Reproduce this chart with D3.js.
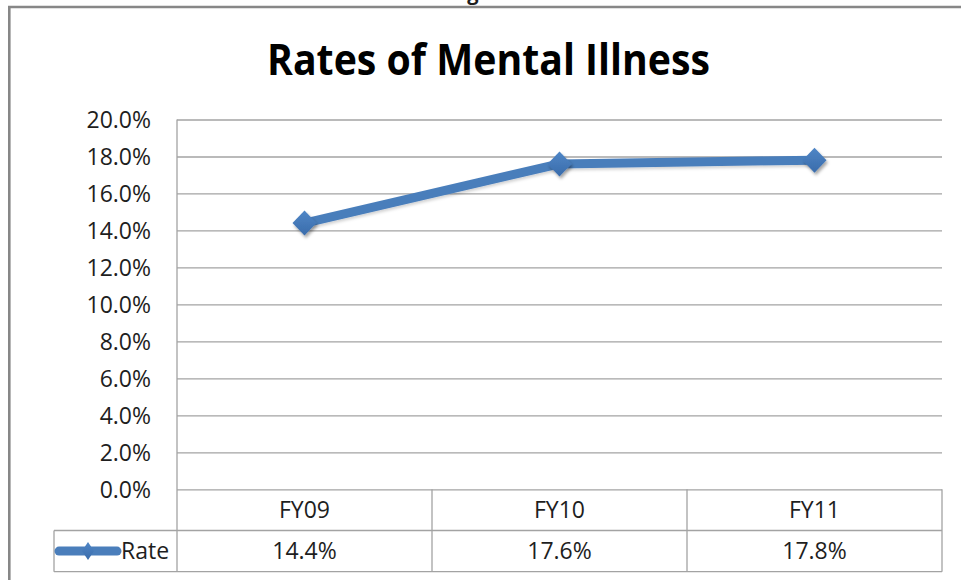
<!DOCTYPE html>
<html>
<head>
<meta charset="utf-8">
<script src="https://cdn.jsdelivr.net/npm/d3@7"></script>
<style>
  html, body { margin: 0; padding: 0; background: #fff; }
  svg { display: block; }
  text { font-family: "Open Sans", "Noto Sans", sans-serif; fill: #1e1e1e; }
</style>
</head>
<body>
<svg id="chart" width="961" height="580"></svg>
<script>
// Chart data
const title = "Rates of Mental Illness";
const seriesName = "Rate";
const categories = ["FY09", "FY10", "FY11"];
const rates = [0.144, 0.176, 0.178];
const yTicks = [0, 0.02, 0.04, 0.06, 0.08, 0.10, 0.12, 0.14, 0.16, 0.18, 0.20];

const svg = d3.select("#chart");
const W = 961, H = 580;

// Plot geometry
const plot = { left: 177, right: 942, top: 119.5, bottom: 489.3 };
const rowH = 41.2;           // height of each data-table row
const legendLeft = 54;       // left edge of the legend cell
const gridColor = "#a3a3a3";
const blue = "#4a7ebb";
const labelSize = 23;

const x = d3.scaleBand().domain(categories).range([plot.left, plot.right]).padding(0);
const y = d3.scaleLinear().domain([0, 0.20]).range([plot.bottom, plot.top]);
const fmt = d3.format(".1%");

// Filters and gradients
const defs = svg.append("defs");
const sh = defs.append("filter").attr("id", "shadow")
  .attr("x", "-50%").attr("y", "-50%").attr("width", "200%").attr("height", "200%");
sh.append("feDropShadow").attr("dx", 1.5).attr("dy", 2.5)
  .attr("stdDeviation", 1.8).attr("flood-color", "#000").attr("flood-opacity", 0.35);
const shLine = defs.append("filter").attr("id", "lineShadow")
  .attr("x", "-10%").attr("y", "-50%").attr("width", "120%").attr("height", "200%");
shLine.append("feDropShadow").attr("dx", 1).attr("dy", 2)
  .attr("stdDeviation", 1.5).attr("flood-color", "#000").attr("flood-opacity", 0.18);
const grad = defs.append("linearGradient").attr("id", "markerFill")
  .attr("x1", 0).attr("y1", 0).attr("x2", 0).attr("y2", 1);
grad.append("stop").attr("offset", "0%").attr("stop-color", "#4f86c6");
grad.append("stop").attr("offset", "100%").attr("stop-color", "#3a6cab");

// Outer chart frame (left and top edges)
svg.append("path")
  .attr("d", `M9.3,${H} V7 H${W}`)
  .attr("fill", "none").attr("stroke", "#878787").attr("stroke-width", 2.6);

// Descender of a caption sitting above the frame
svg.append("text").attr("x", 473).attr("y", 0)
  .attr("text-anchor", "middle").attr("font-weight", 700).attr("font-size", 20)
  .text("g");

// Title
svg.append("text")
  .attr("x", 488.5).attr("y", 74.5)
  .attr("text-anchor", "middle")
  .attr("font-weight", 700).attr("font-size", 43)
  .attr("textLength", 443).attr("lengthAdjust", "spacingAndGlyphs")
  .style("fill", "#000")
  .text(title);

// Gridlines and y labels
const yAxis = svg.append("g")
  .attr("transform", `translate(${plot.left},0)`)
  .call(d3.axisLeft(y).tickValues(yTicks).tickFormat(fmt)
    .tickSize(-(plot.right - plot.left)).tickPadding(26));
yAxis.select(".domain").remove();
yAxis.selectAll(".tick line").attr("stroke", gridColor).attr("stroke-width", 1.3);
yAxis.selectAll(".tick text")
  .attr("font-size", labelSize).attr("font-family", null).attr("fill", "#1e1e1e")
  .attr("dy", "0.36em")
  .attr("x", -26);

// Left edge of plot area, continuing through the table
svg.append("line")
  .attr("x1", plot.left).attr("x2", plot.left)
  .attr("y1", plot.top).attr("y2", plot.bottom + 2 * rowH)
  .attr("stroke", gridColor).attr("stroke-width", 1.3);

// Data table lines
const table = svg.append("g").attr("stroke", gridColor).attr("stroke-width", 1.3);
table.append("line").attr("x1", legendLeft).attr("x2", plot.right)
  .attr("y1", plot.bottom + rowH).attr("y2", plot.bottom + rowH);
table.append("line").attr("x1", legendLeft).attr("x2", plot.right)
  .attr("y1", plot.bottom + 2 * rowH).attr("y2", plot.bottom + 2 * rowH);
table.append("line").attr("x1", legendLeft).attr("x2", legendLeft)
  .attr("y1", plot.bottom + rowH).attr("y2", plot.bottom + 2 * rowH);
table.selectAll(".col").data(categories).enter().append("line")
  .attr("x1", d => x(d) + x.bandwidth()).attr("x2", d => x(d) + x.bandwidth())
  .attr("y1", plot.bottom).attr("y2", plot.bottom + 2 * rowH);

// Category labels and values in the table
const cellText = sel => sel
  .attr("text-anchor", "middle").attr("font-size", labelSize)
  .attr("dy", "0.36em");
svg.selectAll(".cat").data(categories).enter().append("text")
  .attr("x", d => x(d) + x.bandwidth() / 2)
  .attr("y", plot.bottom + rowH / 2)
  .call(cellText)
  .text(d => d);
svg.selectAll(".val").data(rates).enter().append("text")
  .attr("x", (d, i) => x(categories[i]) + x.bandwidth() / 2)
  .attr("y", plot.bottom + rowH * 1.5)
  .call(cellText)
  .text(d => fmt(d));

// Legend key in the table
const legY = plot.bottom + rowH * 1.5;
const leg = svg.append("g");
leg.append("line").attr("x1", 59).attr("x2", 117).attr("y1", legY).attr("y2", legY)
  .attr("stroke", blue).attr("stroke-width", 9).attr("stroke-linecap", "round");
leg.append("path")
  .attr("d", "M0,-9 L6,0 L0,9 L-6,0 Z")
  .attr("transform", `translate(88,${legY})`)
  .attr("fill", "url(#markerFill)");
leg.append("text")
  .attr("x", 121).attr("y", legY)
  .attr("font-size", labelSize).attr("dy", "0.36em")
  .text(seriesName);

// Series line and markers
const pts = categories.map((c, i) => [x(c) + x.bandwidth() / 2, y(rates[i])]);
svg.append("path")
  .attr("d", d3.line()(pts))
  .attr("fill", "none").attr("stroke", blue).attr("stroke-width", 9)
  .attr("stroke-linejoin", "round")
  .attr("filter", "url(#lineShadow)");
svg.selectAll(".marker").data(pts).enter().append("path")
  .attr("d", "M0,-12.5 L12,0 L0,12.5 L-12,0 Z")
  .attr("transform", d => `translate(${d[0]},${d[1]})`)
  .attr("fill", "url(#markerFill)")
  .attr("filter", "url(#shadow)");
</script>
</body>
</html>
